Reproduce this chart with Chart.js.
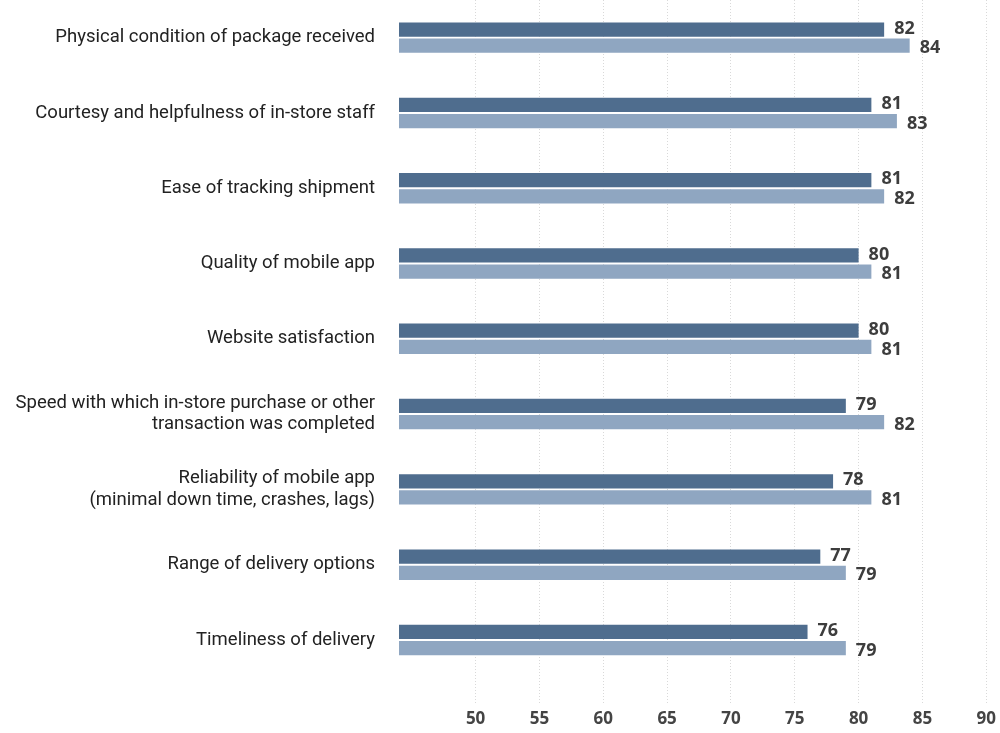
<!DOCTYPE html>
<html>
<head>
<meta charset="utf-8">
<script src="https://cdn.jsdelivr.net/npm/chart.js@4"></script>
<style>
html,body{margin:0;padding:0;background:#fff;}
#wrap{position:relative;width:1000px;height:733px;}
</style>
</head>
<body>
<div id="wrap"><canvas id="c"></canvas></div>
<script>
const categories = [
  "Physical condition of package received",
  "Courtesy and helpfulness of in-store staff",
  "Ease of tracking shipment",
  "Quality of mobile app",
  "Website satisfaction",
  ["Speed with which in-store purchase or other", "transaction was completed"],
  ["Reliability of mobile app", "(minimal down time, crashes, lags)"],
  "Range of delivery options",
  "Timeliness of delivery"
];
const seriesA = [82, 81, 81, 80, 80, 79, 78, 77, 76];
const seriesB = [84, 83, 82, 81, 81, 82, 81, 79, 79];
const xTicks = [50, 55, 60, 65, 70, 75, 80, 85, 90];

const valueLabels = {
  id: 'valueLabels',
  afterDatasetsDraw(chart) {
    const ctx = chart.ctx;
    ctx.save();
    ctx.font = '700 18px "Open Sans"';
    ctx.fillStyle = '#3d3d3d';
    ctx.textAlign = 'left';
    ctx.textBaseline = 'middle';
    chart.data.datasets.forEach((ds, di) => {
      const meta = chart.getDatasetMeta(di);
      meta.data.forEach((bar, i) => {
        const dy = di === 0 ? -1 : 2.5;
        ctx.fillText(String(ds.data[i]), bar.x + 10, bar.y + dy);
      });
    });
    ctx.restore();
  }
};

new Chart(document.getElementById('c'), {
  type: 'bar',
  data: {
    labels: categories,
    datasets: [
      { label: 'A', data: seriesA, backgroundColor: '#4f6d8e',
        categoryPercentage: 0.43, barPercentage: 0.88 },
      { label: 'B', data: seriesB, backgroundColor: '#8fa6c1',
        categoryPercentage: 0.43, barPercentage: 0.88 }
    ]
  },
  options: {
    indexAxis: 'y',
    responsive: true,
    maintainAspectRatio: false,
    animation: false,
    layout: { padding: 0 },
    plugins: { legend: { display: false }, tooltip: { enabled: false } },
    scales: {
      x: {
        min: 44,
        max: 90,
        afterBuildTicks: s => { s.ticks = xTicks.map(v => ({ value: v })); },
        border: { display: false, dash: [1, 2] },
        grid: {
          color: '#d9d9d9',
          lineWidth: 1,
          tickColor: '#d9d9d9',
          tickLength: 27,
          drawTicks: true,
          tickBorderDash: [1, 2]
        },
        ticks: {
          padding: 4,
          color: '#444',
          font: { family: '"Open Sans"', size: 17, weight: '700' },
          maxRotation: 0
        }
      },
      y: {
        border: { display: false },
        grid: { display: false, drawTicks: false },
        afterFit: s => { s.width = 399; s.paddingTop = 0; s.paddingBottom = 0; },
        ticks: {
          padding: 24,
          color: '#222',
          font: { family: 'Roboto', size: 18.5, lineHeight: 1.14 },
          autoSkip: false
        }
      }
    }
  },
  plugins: [valueLabels]
});
</script>
</body>
</html>
